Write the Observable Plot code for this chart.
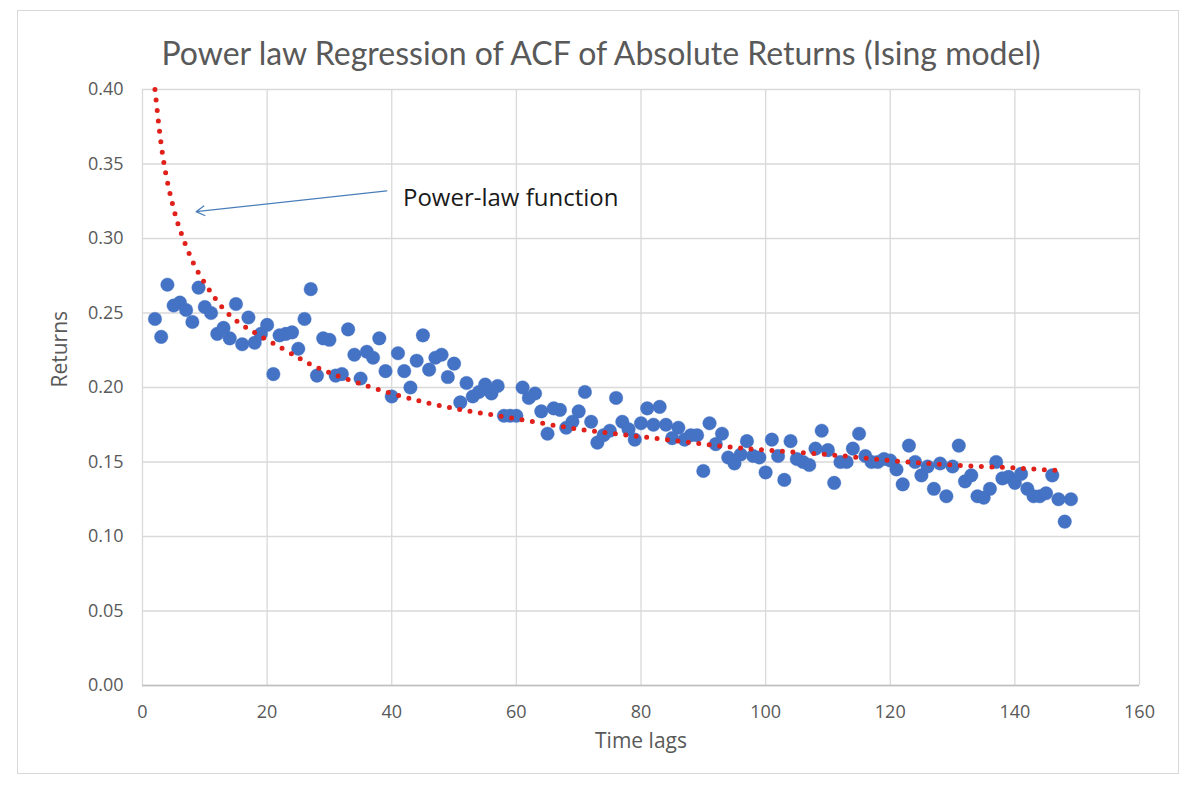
<!DOCTYPE html>
<html>
<head>
<meta charset="utf-8">
<script src="https://cdn.jsdelivr.net/npm/d3@7"></script>
<script src="https://cdn.jsdelivr.net/npm/@observablehq/plot@0.6"></script>
<style>
  body { margin: 0; background: #fff; }
  #wrap { position: relative; width: 1196px; height: 791px; overflow: hidden; font-family: "Open Sans", Lato, sans-serif; }
  #frame { position: absolute; left: 17px; top: 10px; width: 1162px; height: 764px; border: 1px solid #d9d9d9; box-sizing: border-box; }
  #title { position: absolute; left: 0; width: 1202px; top: 32px; text-align: center; font-family: Lato, sans-serif; font-size: 32px; color: #595959; line-height: 42px; }
  #chart { position: absolute; left: 0; top: 70px; }
</style>
</head>
<body>
<div id="wrap">
  <div id="frame"></div>
  <div id="title">Power law Regression of ACF of Absolute Returns (Ising model)</div>
  <div id="chart"></div>
</div>
<script>
// Observed ACF of absolute returns, lags 2..149
const lags = d3.range(2, 150);
const returns = [
  0.246, 0.234, 0.269, 0.255, 0.257, 0.252, 0.244, 0.267, 0.254, 0.250, // 2-11
  0.236, 0.240, 0.233, 0.256, 0.229, 0.247, 0.230, 0.236, 0.242, 0.209, // 12-21
  0.235, 0.236, 0.237, 0.226, 0.246, 0.266, 0.208, 0.233, 0.232, 0.208, // 22-31
  0.209, 0.239, 0.222, 0.206, 0.224, 0.220, 0.233, 0.211, 0.194, 0.223, // 32-41
  0.211, 0.200, 0.218, 0.235, 0.212, 0.220, 0.222, 0.207, 0.216, 0.190, // 42-51
  0.203, 0.194, 0.197, 0.202, 0.196, 0.201, 0.181, 0.181, 0.181, 0.200, // 52-61
  0.193, 0.196, 0.184, 0.169, 0.186, 0.185, 0.173, 0.177, 0.184, 0.197, // 62-71
  0.177, 0.163, 0.168, 0.171, 0.193, 0.177, 0.172, 0.165, 0.176, 0.186, // 72-81
  0.175, 0.187, 0.175, 0.166, 0.173, 0.165, 0.168, 0.168, 0.144, 0.176, // 82-91
  0.162, 0.169, 0.153, 0.149, 0.155, 0.164, 0.154, 0.153, 0.143, 0.165, // 92-101
  0.154, 0.138, 0.164, 0.152, 0.150, 0.148, 0.159, 0.171, 0.158, 0.136, // 102-111
  0.150, 0.150, 0.159, 0.169, 0.154, 0.150, 0.150, 0.152, 0.151, 0.145, // 112-121
  0.135, 0.161, 0.150, 0.141, 0.147, 0.132, 0.149, 0.127, 0.147, 0.161, // 122-131
  0.137, 0.141, 0.127, 0.126, 0.132, 0.150, 0.139, 0.140, 0.136, 0.142, // 132-141
  0.132, 0.127, 0.127, 0.129, 0.141, 0.125, 0.110, 0.125              // 142-149
];

// Power-law trendline
const fitLags = [2, 3, 4, 5, 6, 8, 10, 12, 15, 20, 25, 30, 40, 50, 60, 70, 80, 90, 100, 110, 120, 130, 140, 148];
const fitVals = [0.400, 0.363, 0.338, 0.320, 0.306, 0.285, 0.270, 0.258, 0.245, 0.232, 0.220, 0.210, 0.196, 0.186, 0.179, 0.172, 0.167, 0.162, 0.158, 0.155, 0.151, 0.148, 0.146, 0.144];

// Annotation
const noteText = ["Power-law function"];
const noteAt = [{x: 41.8, y: 0.327}];
const arrowFrom = [{x: 39.2, y: 0.332}];
const arrowTo = [{x: 8.6, y: 0.318}];

const xTicks = [0, 20, 40, 60, 80, 100, 120, 140, 160];
const yTicks = [0, 0.05, 0.10, 0.15, 0.20, 0.25, 0.30, 0.35, 0.40];
const xTitle = ["Time lags"];
const yTitle = ["Returns"];

const points = lags.map((l, i) => ({lag: l, value: returns[i]}));
const fit = fitLags.map((l, i) => ({lag: l, value: fitVals[i]}));

const font = "'Open Sans', Lato, sans-serif";

const chart = Plot.plot({
  width: 1196,
  height: 700,
  marginLeft: 142,
  marginRight: 57,
  marginTop: 19,
  marginBottom: 85,
  style: {fontFamily: font, fontSize: "18px", color: "#595959", background: "transparent"},
  x: {domain: [0, 160]},
  y: {domain: [0, 0.40]},
  marks: [
    Plot.gridX(xTicks, {stroke: "#d9d9d9", strokeOpacity: 1, strokeWidth: 1.3}),
    Plot.gridY(yTicks, {stroke: "#d9d9d9", strokeOpacity: 1, strokeWidth: 1.3}),
    Plot.ruleY([0], {stroke: "#bfbfbf", strokeWidth: 1.5}),
    Plot.axisX(xTicks, {tickSize: 0, tickPadding: 20, label: null, fontSize: 18, fill: "#595959"}),
    Plot.axisY(yTicks, {tickSize: 0, tickPadding: 19, tickFormat: d3.format(".2f"), label: null, fontSize: 18, fill: "#595959"}),
    Plot.text(xTitle, {text: d => d, frameAnchor: "bottom", dy: 62, fontSize: 21, fill: "#595959"}),
    Plot.text(yTitle, {text: d => d, frameAnchor: "left", dx: -82, rotate: -90, fontSize: 21, fill: "#595959"}),
    Plot.dot(points, {x: "lag", y: "value", r: 6.8, fill: "#4472c4", stroke: "#4472c4", strokeOpacity: 0.35, strokeWidth: 1}),
    Plot.line(fit, {x: "lag", y: "value", curve: "natural", stroke: "#e0201b", strokeWidth: 5, strokeDasharray: "0 10.5", strokeLinecap: "round"}),
    Plot.arrow([0], {x1: () => arrowFrom[0].x, y1: () => arrowFrom[0].y, x2: () => arrowTo[0].x, y2: () => arrowTo[0].y, stroke: "#4a7ebb", strokeWidth: 1.3, headLength: 11}),
    Plot.text(noteText, {x: () => noteAt[0].x, y: () => noteAt[0].y, text: d => d, textAnchor: "start", fontSize: 24, fill: "#1a1a1a"})
  ]
});
document.getElementById("chart").appendChild(chart);
</script>
</body>
</html>
